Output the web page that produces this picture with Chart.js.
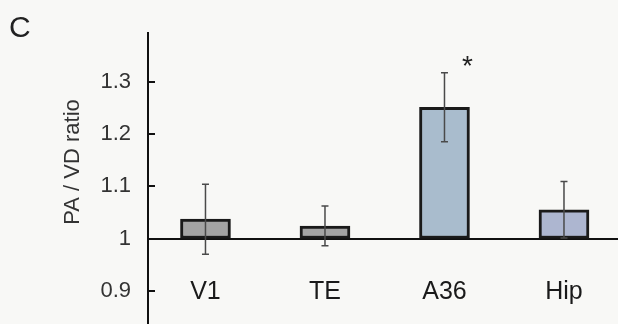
<!DOCTYPE html>
<html><head><meta charset="utf-8">
<script src="https://cdn.jsdelivr.net/npm/chart.js@4"></script>
<style>html,body{margin:0;padding:0;background:#f8f8f6;overflow:hidden}#wrap{width:618px;height:324px}</style>
</head><body><div id="wrap"><canvas id="c" width="618" height="324"></canvas></div>
<script>
const categories = ['V1', 'TE', 'A36', 'Hip'];
const ratios = [1.037, 1.024, 1.251, 1.055];
const errors = [0.067, 0.038, 0.066, 0.054];
const significant = [false, false, true, false];
const barColors = ['#a4a4a4', '#a4a4a4', '#a9bccd', '#adb6d0'];
const yTickValues = [0.9, 1.0, 1.1, 1.2, 1.3];
const yTickLabels = ['0.9', '1', '1.1', '1.2', '1.3'];
const baseValue = 1;
const yTitle = 'PA / VD ratio';
const panelLabel = 'C';

Chart.defaults.font.family = "'Liberation Sans', Arial, sans-serif";

const overlay = {
  id: 'overlay',
  afterDatasetsDraw(chart) {
    const {ctx, scales: {x, y}} = chart;
    ctx.save();
    ctx.strokeStyle = '#4a4a4a';
    ctx.lineWidth = 1.5;
    ratios.forEach((v, i) => {
      const px = x.getPixelForValue(i);
      const top = y.getPixelForValue(v + errors[i]);
      const bot = y.getPixelForValue(v - errors[i]);
      ctx.beginPath();
      ctx.moveTo(px, top); ctx.lineTo(px, bot);
      ctx.moveTo(px - 3.5, top); ctx.lineTo(px + 3.5, top);
      ctx.moveTo(px - 3.5, bot); ctx.lineTo(px + 3.5, bot);
      ctx.stroke();
      if (significant[i]) {
        ctx.fillStyle = '#222';
        ctx.font = "28px 'Liberation Sans'";
        ctx.textAlign = 'center';
        ctx.textBaseline = 'alphabetic';
        ctx.fillText('*', px + 23, top + 2);
      }
    });
    ctx.fillStyle = '#222';
    ctx.font = "30px 'Liberation Sans'";
    ctx.textAlign = 'left';
    ctx.textBaseline = 'alphabetic';
    ctx.fillText(panelLabel, 9, 37);
    ctx.translate(79, 162);
    ctx.rotate(-Math.PI / 2);
    ctx.font = "22px 'Liberation Sans'";
    ctx.textAlign = 'center';
    ctx.fillStyle = '#333';
    ctx.fillText(yTitle, 0, 0);
    ctx.restore();
  }
};

new Chart(document.getElementById('c'), {
  type: 'bar',
  data: {
    datasets: [{
      data: ratios.map((v, i) => ({x: i, y: [baseValue, v]})),
      backgroundColor: barColors,
      borderColor: '#1a1a1a',
      borderWidth: 3,
      borderSkipped: false,
      barThickness: 50
    }]
  },
  options: {
    responsive: false,
    animation: false,
    layout: {padding: {top: 33, left: 0, right: 0, bottom: 0}},
    plugins: {legend: {display: false}, tooltip: {enabled: false}},
    scales: {
      x: {
        type: 'linear',
        position: {y: baseValue},
        min: -0.481, max: 3.452,
        offset: false,
        grid: {drawOnChartArea: false, drawTicks: false},
        border: {display: true, color: '#111', width: 2},
        ticks: {
          padding: 39, color: '#1a1a1a', font: {size: 25},
          autoSkip: false, maxRotation: 0,
          callback: (v) => categories[v] !== undefined ? categories[v] : ''
        },
        afterBuildTicks: (s) => { s.ticks = categories.map((_, i) => ({value: i})); },
        afterFit: (s) => { s.paddingLeft = 0; s.paddingRight = 0; }
      },
      y: {
        position: 'left',
        min: 0.8364, max: 1.3933,
        grid: {drawOnChartArea: false, drawTicks: true, tickLength: -7, color: '#111', lineWidth: 2},
        border: {display: true, color: '#111', width: 2},
        ticks: {
          padding: 24, color: '#333', font: {size: 22},
          callback: (v) => {
            const k = yTickValues.findIndex(t => Math.abs(t - v) < 1e-6);
            return k >= 0 ? yTickLabels[k] : '';
          }
        },
        afterBuildTicks: (s) => { s.ticks = yTickValues.map(v => ({value: v})); },
        afterFit: (s) => { s.width = 148; s.paddingTop = 0; s.paddingBottom = 0; }
      }
    }
  },
  plugins: [overlay]
});
</script>
</body></html>
